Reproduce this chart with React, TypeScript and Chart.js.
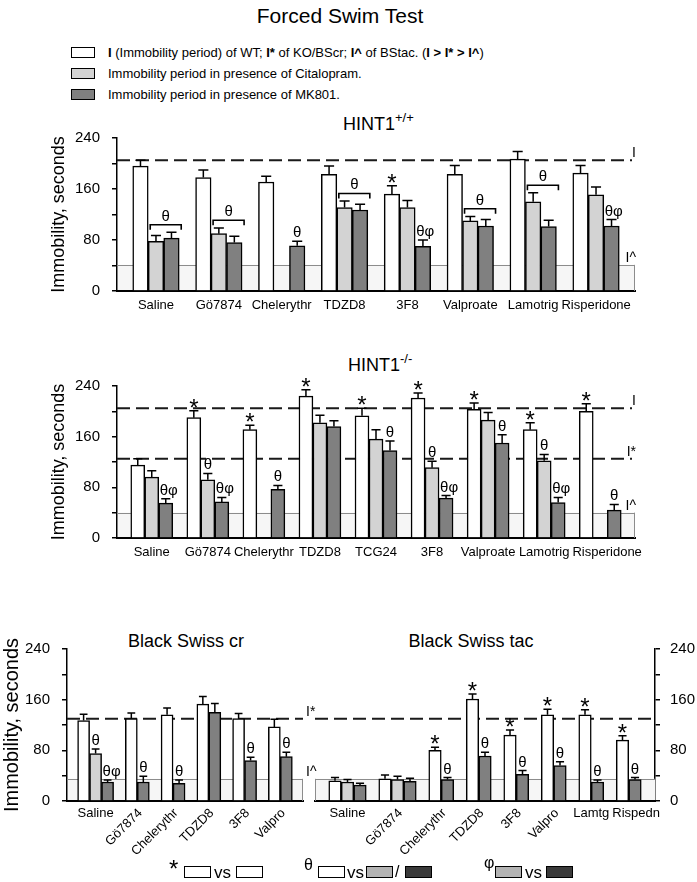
import React, { useEffect, useRef } from 'react';
import { Chart, registerables } from 'chart.js';

Chart.register(...registerables);

const FONT = "'Liberation Sans', Arial, Helvetica, sans-serif";

// ---------------- Panel 1: HINT1 +/+ ----------------
const wtCategories = ['Saline', 'Gö7874', 'Chelerythr', 'TDZD8', '3F8', 'Valproate', 'Lamotrig', 'Risperidone'];
const wtImmobility = [196, 178, 171, 183, 152, 183, 207, 185];
const wtImmobilityErr = [9, 12, 9, 13, 13, 14, 12, 12];
const wtCitalopram = [78, 90, null, 131, 131, 110, 140, 151];
const wtCitalopramErr = [9, 9, null, 10, 11, 7, 14, 12];
const wtMK801 = [83, 76, 71, 127, 70, 102, 101, 102];
const wtMK801Err = [9, 10, 7, 9, 10, 10, 10, 10];
const wtRefLines = [{ value: 205, label: 'I' }];
const wtBaseline = { value: 41, label: 'I^' };
const wtMarks = [
  { cat: 0, series: 1, text: 'θ', bracket: true },
  { cat: 1, series: 1, text: 'θ', bracket: true },
  { cat: 2, series: 2, text: 'θ' },
  { cat: 3, series: 1, text: 'θ', bracket: true },
  { cat: 4, series: 0, text: '*' },
  { cat: 4, series: 2, text: 'θφ' },
  { cat: 5, series: 1, text: 'θ', bracket: true },
  { cat: 6, series: 1, text: 'θ', bracket: true },
  { cat: 7, series: 2, text: 'θφ' },
];

// ---------------- Panel 2: HINT1 -/- ----------------
const koCategories = ['Saline', 'Gö7874', 'Chelerythr', 'TDZD8', 'TCG24', '3F8', 'Valproate', 'Lamotrig', 'Risperidone'];
const koImmobility = [115, 190, 171, 224, 193, 221, 203, 171, 200];
const koImmobilityErr = [10, 11, 7, 10, 12, 8, 10, 11, 12];
const koCitalopram = [96, 92, null, 182, 156, 111, 186, 122, null];
const koCitalopramErr = [10, 10, null, 12, 15, 10, 12, 10, null];
const koMK801 = [55, 57, 77, 176, 138, 63, 150, 56, 44];
const koMK801Err = [7, 7, 6, 9, 15, 4, 13, 8, 9];
const koRefLines = [{ value: 205, label: 'I' }, { value: 125, label: 'I*' }];
const koBaseline = { value: 40, label: 'I^' };
const koMarks = [
  { cat: 0, series: 2, text: 'θφ' },
  { cat: 1, series: 0, text: '*' },
  { cat: 1, series: 1, text: 'θ' },
  { cat: 1, series: 2, text: 'θφ' },
  { cat: 2, series: 0, text: '*' },
  { cat: 2, series: 2, text: 'θ' },
  { cat: 3, series: 0, text: '*' },
  { cat: 4, series: 0, text: '*' },
  { cat: 4, series: 2, text: 'θ' },
  { cat: 5, series: 0, text: '*' },
  { cat: 5, series: 1, text: 'θ' },
  { cat: 5, series: 2, text: 'θφ' },
  { cat: 6, series: 0, text: '*' },
  { cat: 6, series: 2, text: 'θ' },
  { cat: 7, series: 0, text: '*' },
  { cat: 7, series: 1, text: 'θ' },
  { cat: 7, series: 2, text: 'θφ' },
  { cat: 8, series: 0, text: '*' },
  { cat: 8, series: 2, text: 'θ' },
];

// ---------------- Panel 3a: Black Swiss cr ----------------
const bscrCategories = ['Saline', 'Gö7874', 'Chelerythr', 'TDZD8', '3F8', 'Valpro'];
const bscrRotated = [false, true, true, true, true, true];
const bscrImmobility = [127, 130, 136, 153, 130, 117];
const bscrImmobilityErr = [10, 9, 11, 12, 8, 12];
const bscrCitalopram = [75, null, null, null, null, null];
const bscrCitalopramErr = [7, null, null, null, null, null];
const bscrMK801 = [30, 30, 28, 140, 64, 70];
const bscrMK801Err = [3, 9, 5, 14, 5, 7];
const bscrRefLines = [{ value: 130, label: 'I*' }];
const bscrBaseline = { value: 35, label: 'I^' };
const bscrMarks = [
  { cat: 0, series: 1, text: 'θ' },
  { cat: 0, series: 2, text: 'θφ' },
  { cat: 1, series: 2, text: 'θ' },
  { cat: 2, series: 2, text: 'θ' },
  { cat: 4, series: 2, text: 'θ' },
  { cat: 5, series: 2, text: 'θ' },
];

// ---------------- Panel 3b: Black Swiss tac ----------------
const bstacCategories = ['Saline', 'Gö7874', 'Chelerythr', 'TDZD8', '3F8', 'Valpro', 'Lamtg', 'Rispedn'];
const bstacRotated = [false, true, true, true, true, true, false, false];
const bstacImmobility = [32, 35, 80, 161, 104, 136, 136, 96];
const bstacImmobilityErr = [5, 6, 5, 8, 8, 9, 8, 7];
const bstacCitalopram = [30, 34, null, null, null, null, null, null];
const bstacCitalopramErr = [4, 5, null, null, null, null, null, null];
const bstacMK801 = [25, 31, 34, 71, 42, 56, 30, 34];
const bstacMK801Err = [3, 5, 3, 6, 6, 6, 3, 3];
const bstacRefLines = [{ value: 130, label: '' }];
const bstacBaseline = { value: 35, label: '' };
const bstacMarks = [
  { cat: 2, series: 0, text: '*' }, { cat: 2, series: 2, text: 'θ' },
  { cat: 3, series: 0, text: '*' }, { cat: 3, series: 2, text: 'θ' },
  { cat: 4, series: 0, text: '*' }, { cat: 4, series: 2, text: 'θ' },
  { cat: 5, series: 0, text: '*' }, { cat: 5, series: 2, text: 'θ' },
  { cat: 6, series: 0, text: '*' }, { cat: 6, series: 2, text: 'θ' },
  { cat: 7, series: 0, text: '*' }, { cat: 7, series: 2, text: 'θ' },
];

const yTicks = { min: 0, max: 240, step: 40, labelEvery: 80 };
const seriesNames = ['Immobility', 'Citalopram', 'MK801'];
const seriesColors = ['#ffffff', '#d3d3d3', '#808080'];

type Mark = { cat: number; series: number; text: string; bracket?: boolean };
type Panel = {
  categories: string[];
  values: (number | null)[][];
  errors: (number | null)[][];
  refLines: { value: number; label: string }[];
  baseline: { value: number; label: string };
  marks: Mark[];
  rotated?: boolean[];
};
type Layout = {
  width: number; height: number;
  padTop: number; padLeft: number; padRight: number;
  yWidth: number; xHeight: number;
  yPosition: 'left' | 'right';
  yTitle?: { size: number; pad: number };
  barThickness: number;
  packed: boolean;
  edgePad: number;
  labelGap: number;
  lineLabels: 'inside' | 'outside' | 'none';
  bandLeftEdge: boolean;
  bandRightEdge: boolean;
};

const panels: Record<string, Panel> = {
  wt: {
    categories: wtCategories,
    values: [wtImmobility, wtCitalopram, wtMK801],
    errors: [wtImmobilityErr, wtCitalopramErr, wtMK801Err],
    refLines: wtRefLines, baseline: wtBaseline, marks: wtMarks,
  },
  ko: {
    categories: koCategories,
    values: [koImmobility, koCitalopram, koMK801],
    errors: [koImmobilityErr, koCitalopramErr, koMK801Err],
    refLines: koRefLines, baseline: koBaseline, marks: koMarks,
  },
  bscr: {
    categories: bscrCategories,
    values: [bscrImmobility, bscrCitalopram, bscrMK801],
    errors: [bscrImmobilityErr, bscrCitalopramErr, bscrMK801Err],
    refLines: bscrRefLines, baseline: bscrBaseline, marks: bscrMarks, rotated: bscrRotated,
  },
  bstac: {
    categories: bstacCategories,
    values: [bstacImmobility, bstacCitalopram, bstacMK801],
    errors: [bstacImmobilityErr, bstacCitalopramErr, bstacMK801Err],
    refLines: bstacRefLines, baseline: bstacBaseline, marks: bstacMarks, rotated: bstacRotated,
  },
};

function categoryCenters(panel: Panel, packed: boolean) {
  if (!packed) {
    return { centers: panel.categories.map((_, i) => i), last: panel.categories.length - 1 };
  }
  const centers: number[] = [];
  let cursor = 0;
  panel.categories.forEach((_, i) => {
    const count = panel.values.filter((s) => s[i] != null).length;
    centers.push(cursor + count / 2);
    cursor += count + 1;
  });
  return { centers, last: cursor - 1 };
}

function buildChart(canvas: HTMLCanvasElement, panel: Panel, L: Layout): Chart {
  const { centers, last } = categoryCenters(panel, L.packed);

  const datasets = panel.values.map((vals, si) => ({
    label: seriesNames[si],
    data: vals.map((v, i) => ({ x: centers[i], y: v })),
    backgroundColor: seriesColors[si],
    borderColor: '#000',
    borderWidth: 1.5,
    barThickness: L.barThickness,
    skipNull: L.packed,
  }));

  const topOf = (si: number, ci: number) => {
    const v = panel.values[si][ci];
    const e = panel.errors[si][ci];
    if (v == null) return null;
    return v + (e ?? 0);
  };

  const plugin = {
    id: 'panelDecor',
    beforeDatasetsDraw(chart: any) {
      const { ctx, chartArea: ca, scales } = chart;
      const y = scales.y;
      ctx.save();
      const bTop = y.getPixelForValue(panel.baseline.value);
      const bBot = y.getPixelForValue(0);
      ctx.fillStyle = '#f6f6f6';
      ctx.fillRect(ca.left + 1, bTop, ca.right - ca.left - 1, bBot - bTop - 1);
      ctx.strokeStyle = '#8c8c8c';
      ctx.lineWidth = 1;
      ctx.beginPath();
      ctx.moveTo(ca.left, Math.round(bTop) + 0.5);
      ctx.lineTo(ca.right, Math.round(bTop) + 0.5);
      if (L.bandRightEdge) {
        ctx.moveTo(ca.right - 0.5, bTop);
        ctx.lineTo(ca.right - 0.5, bBot);
      }
      if (L.bandLeftEdge) {
        ctx.moveTo(ca.left + 0.5, bTop);
        ctx.lineTo(ca.left + 0.5, bBot);
      }
      ctx.stroke();
      ctx.setLineDash([13, 6]);
      ctx.lineWidth = 2;
      ctx.strokeStyle = '#1a1a1a';
      for (const r of panel.refLines) {
        const py = y.getPixelForValue(r.value);
        ctx.beginPath();
        ctx.moveTo(ca.left, py);
        ctx.lineTo(ca.right - (L.lineLabels === 'inside' ? 3 : 0), py);
        ctx.stroke();
      }
      ctx.restore();
    },
    afterDatasetsDraw(chart: any) {
      const { ctx, chartArea: ca, scales } = chart;
      const y = scales.y;
      const x = scales.x;
      ctx.save();
      // error bars
      ctx.strokeStyle = '#000';
      ctx.lineWidth = 1.5;
      panel.values.forEach((vals, si) => {
        const meta = chart.getDatasetMeta(si);
        vals.forEach((v, ci) => {
          const e = panel.errors[si][ci];
          if (v == null || e == null) return;
          const el = meta.data[ci];
          const cap = el.width * 0.65;
          const py = y.getPixelForValue(v);
          const pe = y.getPixelForValue(v + e);
          ctx.beginPath();
          ctx.moveTo(el.x, py);
          ctx.lineTo(el.x, pe);
          ctx.moveTo(el.x - cap / 2, pe);
          ctx.lineTo(el.x + cap / 2, pe);
          ctx.stroke();
        });
      });
      // significance marks
      ctx.fillStyle = '#000';
      for (const m of panel.marks) {
        if (m.bracket) {
          const a = chart.getDatasetMeta(1).data[m.cat];
          const b = chart.getDatasetMeta(2).data[m.cat];
          const t = Math.max(topOf(1, m.cat) ?? 0, topOf(2, m.cat) ?? 0) + 12;
          const by = y.getPixelForValue(t);
          const x1 = a.x - a.width / 2 + 2;
          const x2 = b.x + b.width / 2 + 2;
          ctx.lineWidth = 1.6;
          ctx.beginPath();
          ctx.moveTo(x1, by + 5);
          ctx.lineTo(x1, by);
          ctx.lineTo(x2, by);
          ctx.lineTo(x2, by + 5);
          ctx.stroke();
          ctx.font = `15px ${FONT}`;
          ctx.textAlign = 'center';
          ctx.textBaseline = 'alphabetic';
          ctx.fillText(m.text, (x1 + x2) / 2, by - 4);
        } else {
          const el = chart.getDatasetMeta(m.series).data[m.cat];
          const t = topOf(m.series, m.cat);
          if (t == null) continue;
          const ty = y.getPixelForValue(t);
          ctx.textBaseline = 'alphabetic';
          if (m.text === '*') {
            ctx.font = `24px ${FONT}`;
            ctx.textAlign = 'center';
            ctx.fillText('*', el.x, ty + 5);
          } else if (m.text.length > 1) {
            ctx.font = `15px ${FONT}`;
            ctx.textAlign = 'left';
            ctx.fillText(m.text, el.x - el.width / 2 + 1, ty - 4);
          } else {
            ctx.font = `15px ${FONT}`;
            ctx.textAlign = 'center';
            ctx.fillText(m.text, el.x, ty - 4);
          }
        }
      }
      // reference line labels
      if (L.lineLabels !== 'none') {
        ctx.font = `14px ${FONT}`;
        ctx.textBaseline = 'alphabetic';
        const inside = L.lineLabels === 'inside';
        ctx.textAlign = inside ? 'right' : 'left';
        const lx = inside ? ca.right + 1 : ca.right + 3;
        for (const r of panel.refLines) {
          if (r.label) ctx.fillText(r.label, lx, y.getPixelForValue(r.value) - 3);
        }
        if (panel.baseline.label) {
          ctx.fillText(panel.baseline.label, lx, y.getPixelForValue(panel.baseline.value) - 3);
        }
      }
      // category labels placed at the x scale's positions
      ctx.font = `13px ${FONT}`;
      ctx.fillStyle = '#000';
      const rot = panel.rotated;
      const items = panel.categories.map((lab, i) => {
        const px = x.getPixelForValue(centers[i]);
        const w = ctx.measureText(lab).width;
        return { lab, px, w, rotated: !!(rot && rot[i]) };
      });
      // push a horizontal label right when it would collide with its left neighbour
      for (let i = 1; i < items.length; i++) {
        const a = items[i - 1];
        const b = items[i];
        if (a.rotated || b.rotated) continue;
        const overlap = a.px + a.w / 2 + 3 - (b.px - b.w / 2);
        if (overlap > 0) b.px += overlap;
      }
      for (const it of items) {
        if (!it.rotated) {
          ctx.textAlign = 'center';
          ctx.textBaseline = 'middle';
          ctx.fillText(it.lab, it.px, ca.bottom + L.labelGap);
        } else {
          ctx.save();
          ctx.translate(it.px + 3, ca.bottom + 10);
          ctx.rotate(-Math.PI / 4);
          ctx.textAlign = 'right';
          ctx.textBaseline = 'middle';
          ctx.fillText(it.lab, 0, 0);
          ctx.restore();
        }
      }
      ctx.restore();
    },
  };

  return new Chart(canvas, {
    type: 'bar',
    data: { datasets: datasets as any },
    options: {
      responsive: false,
      animation: false,
      devicePixelRatio: 1,
      events: [],
      layout: { padding: { top: L.padTop, left: L.padLeft, right: L.padRight, bottom: 0 } },
      plugins: { legend: { display: false }, tooltip: { enabled: false }, title: { display: false } },
      scales: {
        x: {
          type: 'linear',
          min: -L.edgePad,
          max: last + L.edgePad,
          offset: false,
          grid: { display: false, drawTicks: false, offset: false },
          border: { display: true, color: '#000', width: 2 },
          ticks: { display: false, stepSize: 1 },
          afterFit: (s: any) => {
            s.height = L.xHeight;
            s.paddingLeft = 0;
            s.paddingRight = 0;
          },
        } as any,
        y: {
          type: 'linear',
          position: L.yPosition,
          min: yTicks.min,
          max: yTicks.max,
          grid: { display: true, drawOnChartArea: false, drawTicks: true, tickLength: 5, color: '#000', lineWidth: 1.5 },
          border: { display: true, color: '#000', width: 1.5 },
          ticks: {
            stepSize: yTicks.step,
            autoSkip: false,
            padding: L.yPosition === 'left' ? 12 : 10,
            color: '#000',
            font: { family: FONT, size: 15 },
            callback: (v: any) => (Number(v) % yTicks.labelEvery === 0 ? String(v) : ''),
          },
          title: L.yTitle
            ? {
                display: true,
                text: 'Immobility, seconds',
                color: '#000',
                font: { family: FONT, size: L.yTitle.size },
                padding: { top: L.yTitle.pad, bottom: 0 },
              }
            : { display: false },
          afterFit: (s: any) => {
            s.width = L.yWidth;
            s.paddingTop = 0;
            s.paddingBottom = 0;
          },
        } as any,
      },
    },
    plugins: [plugin as any],
  });
}

const layouts: Record<string, Layout & { left: number; top: number }> = {
  wt: {
    left: 0, top: 100, width: 697, height: 220,
    padTop: 38, padLeft: 0, padRight: 62, yWidth: 117, xHeight: 29,
    yPosition: 'left', yTitle: { size: 18, pad: 48 },
    barThickness: 15.5, packed: false, edgePad: 0.62, labelGap: 14,
    lineLabels: 'inside', bandLeftEdge: false, bandRightEdge: true,
  },
  ko: {
    left: 0, top: 340, width: 697, height: 230,
    padTop: 46, padLeft: 0, padRight: 62, yWidth: 117, xHeight: 32,
    yPosition: 'left', yTitle: { size: 18, pad: 48 },
    barThickness: 14, packed: false, edgePad: 0.62, labelGap: 14,
    lineLabels: 'inside', bandLeftEdge: false, bandRightEdge: true,
  },
  bscr: {
    left: 0, top: 600, width: 320, height: 262,
    padTop: 49, padLeft: 0, padRight: 17, yWidth: 67, xHeight: 61,
    yPosition: 'left', yTitle: { size: 20, pad: 0 },
    barThickness: 12, packed: true, edgePad: 0.9, labelGap: 12,
    lineLabels: 'outside', bandLeftEdge: false, bandRightEdge: true,
  },
  bstac: {
    left: 300, top: 600, width: 397, height: 262,
    padTop: 49, padLeft: 15, padRight: 0, yWidth: 42, xHeight: 61,
    yPosition: 'right',
    barThickness: 12.5, packed: true, edgePad: 1.1, labelGap: 12,
    lineLabels: 'none', bandLeftEdge: true, bandRightEdge: false,
  },
};

const panelOrder = ['wt', 'ko', 'bscr', 'bstac'];

const legendRows = [
  { fill: '#ffffff', top: 47 },
  { fill: '#d3d3d3', top: 68 },
  { fill: '#808080', top: 89 },
];

const abs = (left: number, top: number, extra: React.CSSProperties = {}): React.CSSProperties => ({
  position: 'absolute', left, top, lineHeight: 1, whiteSpace: 'nowrap', ...extra,
});

const boxStyle = (left: number, top: number, fill: string, w = 27, h = 12): React.CSSProperties => ({
  position: 'absolute', left, top, width: w, height: h, background: fill,
  border: '1.5px solid #000', boxSizing: 'border-box',
});

export default function App() {
  const refs = useRef<(HTMLCanvasElement | null)[]>([]);

  useEffect(() => {
    const charts = panelOrder.map((k, i) => buildChart(refs.current[i]!, panels[k], layouts[k]));
    return () => charts.forEach((c) => c.destroy());
  }, []);

  return (
    <div
      style={{
        position: 'absolute', left: 0, top: 0, width: 697, height: 882, overflow: 'hidden',
        background: '#fff', color: '#000', fontFamily: FONT,
      }}
    >
      <div style={abs(0, 5, { width: 680, textAlign: 'center', fontSize: 21 })}>Forced Swim Test</div>

      {legendRows.map((r, i) => (
        <div key={i} style={boxStyle(71, r.top, r.fill, 24, 11)} />
      ))}
      <div style={abs(108, 46, { fontSize: 13 })}>
        <b>I</b> (Immobility period) of WT; <b>I*</b> of KO/BScr; <b>I^</b> of BStac. (<b>I &gt; I* &gt; I^</b>)
      </div>
      <div style={abs(108, 67, { fontSize: 13 })}>Immobility period in presence of Citalopram.</div>
      <div style={abs(108, 88, { fontSize: 13 })}>Immobility period in presence of MK801.</div>

      <div style={abs(343, 115, { fontSize: 18 })}>
        HINT1<span style={{ fontSize: 13, position: 'relative', top: -8 }}>+/+</span>
      </div>
      <div style={abs(348, 356, { fontSize: 18 })}>
        HINT1<span style={{ fontSize: 13, position: 'relative', top: -8 }}>-/-</span>
      </div>
      <div style={abs(86, 632, { width: 200, textAlign: 'center', fontSize: 18 })}>Black Swiss cr</div>
      <div style={abs(371, 632, { width: 200, textAlign: 'center', fontSize: 18 })}>Black Swiss tac</div>

      {panelOrder.map((k, i) => {
        const L = layouts[k];
        return (
          <canvas
            key={k}
            ref={(el) => { refs.current[i] = el; }}
            width={L.width}
            height={L.height}
            style={{ position: 'absolute', left: L.left, top: L.top, width: L.width, height: L.height }}
          />
        );
      })}

      {/* significance key */}
      <div style={abs(169, 857, { fontSize: 24 })}>*</div>
      <div style={boxStyle(184, 866, '#ffffff')} />
      <div style={abs(214, 864, { fontSize: 17 })}>vs</div>
      <div style={boxStyle(236, 866, '#ffffff')} />

      <div style={abs(304, 857, { fontSize: 16 })}>θ</div>
      <div style={boxStyle(318, 866, '#ffffff')} />
      <div style={abs(347, 864, { fontSize: 17 })}>vs</div>
      <div style={boxStyle(366, 866, '#b3b3b3')} />
      <div style={abs(395, 864, { fontSize: 16 })}>/</div>
      <div style={boxStyle(405, 866, '#3a3a3a')} />

      <div style={abs(484, 855, { fontSize: 16 })}>φ</div>
      <div style={boxStyle(495, 866, '#b3b3b3')} />
      <div style={abs(525, 864, { fontSize: 17 })}>vs</div>
      <div style={boxStyle(546, 866, '#3a3a3a')} />
    </div>
  );
}
